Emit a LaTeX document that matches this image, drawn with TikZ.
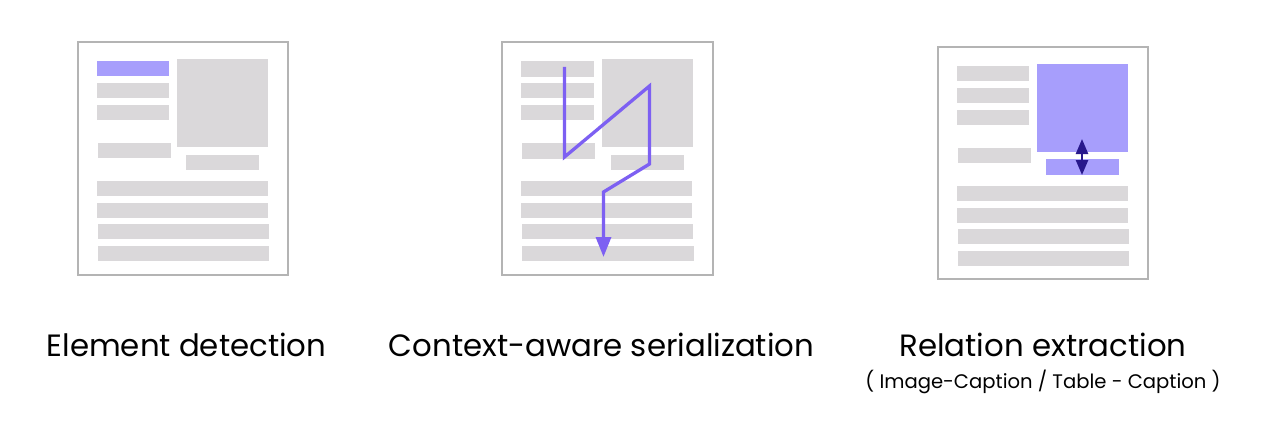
\documentclass[tikz,border=0pt]{standalone}
\usepackage{fontspec}
\setmainfont{Poppins}
\usetikzlibrary{arrows.meta}
\definecolor{bargray}{RGB}{218,216,218}
\definecolor{framegray}{RGB}{180,180,180}
\definecolor{lilac}{RGB}{167,158,252}
\definecolor{pathpurple}{RGB}{125,96,242}
\definecolor{navy}{RGB}{40,24,140}
\tikzset{
  bar/.style={fill=bargray},
  hl/.style={fill=lilac},
  frame/.style={draw=framegray,line width=1.5pt,fill=white},
  title/.style={anchor=base,font=\fontsize{30.8}{34}\selectfont,text=black,inner sep=0pt},
  subtitle/.style={anchor=base,font=\fontsize{19.6}{22}\selectfont,text=black,inner sep=0pt},
  readpath/.style={draw=pathpurple,line width=3.3pt,line join=miter,-{Triangle[width=15pt,length=20pt]}},
  relarrow/.style={draw=navy,line width=2.5pt,{Triangle[width=12pt,length=15pt]}-{Triangle[width=12pt,length=15pt]}}
}
\begin{document}
\begin{tikzpicture}[x=1pt,y=-1pt]
\useasboundingbox (0,0) rectangle (1263,433);
% ---------- Panel 1 ----------
\draw[frame] (78,42) rectangle (288,275);
\fill[hl]  (97,61) rectangle (169,76);
\fill[bar] (97,83) rectangle (169,98);
\fill[bar] (97,105) rectangle (169,120);
\fill[bar] (98,143) rectangle (171,158);
\fill[bar] (177,59) rectangle (268,147);
\fill[bar] (186,155) rectangle (259,170);
\fill[bar] (97,181) rectangle (268,196);
\fill[bar] (97,203) rectangle (268,218);
\fill[bar] (98,224) rectangle (269,239);
\fill[bar] (98,246) rectangle (269,261);
\node[title] (t1) at (186.5,356) {Element detection};
% ---------- Panel 2 ----------
\draw[frame] (502,42) rectangle (713,275);
\fill[bar] (521,61) rectangle (594,77);
\fill[bar] (521,83) rectangle (594,98);
\fill[bar] (521,105) rectangle (594,120);
\fill[bar] (522,143) rectangle (595,159);
\fill[bar] (602,59) rectangle (693,147);
\fill[bar] (611,155) rectangle (684,170);
\fill[bar] (521,181) rectangle (692,196);
\fill[bar] (521,203) rectangle (692,218);
\fill[bar] (522,224) rectangle (693,239);
\fill[bar] (522,246) rectangle (694,261);
\coordinate (p0) at (564.5,67);
\coordinate (p1) at (564.5,157);
\coordinate (p2) at (649.5,86);
\coordinate (p3) at (649.5,164);
\coordinate (p4) at (603.5,192);
\coordinate (p5) at (603.5,257);
\draw[readpath] (p0) -- (p1) -- (p2) -- (p3) -- (p4) -- (p5);
\node[title] (t2) at (601.5,356) {Context-aware serialization};
% ---------- Panel 3 ----------
\draw[frame] (938,47) rectangle (1148,279);
\fill[bar] (957,66) rectangle (1029,81);
\fill[bar] (957,88) rectangle (1029,103);
\fill[bar] (957,110) rectangle (1029,125);
\fill[bar] (958,148) rectangle (1031,163);
\fill[hl]  (1037,64) rectangle (1128,152);
\fill[hl]  (1046,159) rectangle (1119,175);
\fill[bar] (957,186) rectangle (1128,201);
\fill[bar] (957,208) rectangle (1128,223);
\fill[bar] (958,229) rectangle (1129,244);
\fill[bar] (958,251) rectangle (1129,266);
\coordinate (r0) at (1082,139);
\coordinate (r1) at (1082,175);
\draw[relarrow] (r0) -- (r1);
\node[title] (t3) at (1043,356) {Relation extraction};
\node[subtitle] (s3) at (1043,388) {( Image-Caption / Table - Caption )};
\end{tikzpicture}
\end{document}
